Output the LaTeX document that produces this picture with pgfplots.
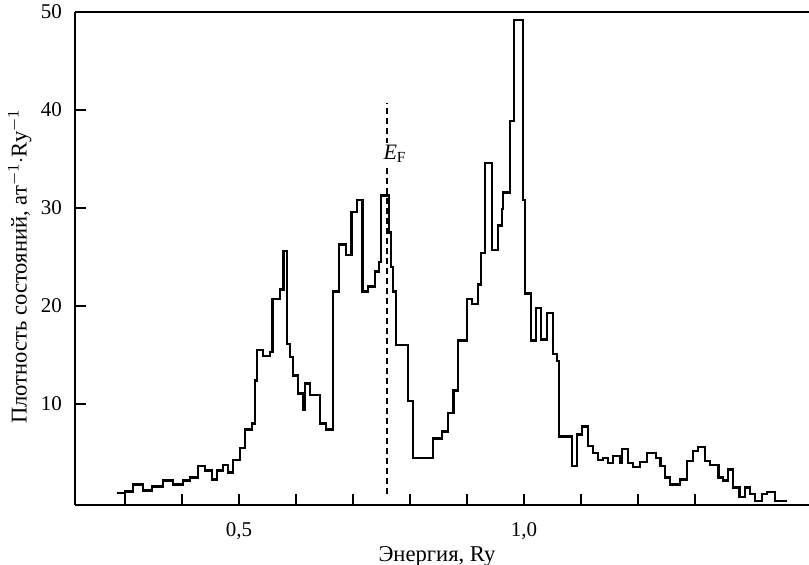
\documentclass[border=0pt]{standalone}
\usepackage{fontspec}
\setmainfont{Liberation Serif}
\usepackage{pgfplots}
\usepackage{pgfplotstable}
\pgfplotsset{compat=1.18}

% Density of states histogram: left edge of each energy bin (Ry) and its value
\pgfplotstableread{
E       dos
0.2857  0.9
0.2999  1.1
0.3142  1.8
0.3315  1.2
0.3478  1.6
0.3671  2.2
0.3844  1.8
0.4017  2.2
0.4139  2.5
0.4281  3.7
0.4404  3.2
0.4526  2.3
0.4617  3.2
0.4719  3.8
0.4811  3.0
0.4892  4.3
0.5014  5.5
0.5106  7.4
0.5228  8.0
0.5279  12.4
0.5319  15.5
0.5421  14.9
0.5543  15.3
0.5584  20.7
0.5716  21.7
0.5777  25.6
0.5838  16.1
0.5899  14.8
0.5950  12.9
0.6032  11.1
0.6123  9.4
0.6154  12.1
0.6245  10.9
0.6418  8.0
0.6530  7.4
0.6652  21.5
0.6754  26.3
0.6876  25.2
0.6978  29.6
0.7070  30.8
0.7171  21.5
0.7263  22.0
0.7385  23.5
0.7456  24.5
0.7487  31.3
0.7629  27.5
0.7670  24.0
0.7700  21.5
0.7751  16.0
0.7965  10.3
0.8057  4.5
0.8402  6.5
0.8565  7.2
0.8667  9.1
0.8759  11.4
0.8840  16.5
0.9003  20.7
0.9084  20.2
0.9196  22.2
0.9247  25.4
0.9318  34.6
0.9440  25.7
0.9542  28.2
0.9613  29.9
0.9634  31.6
0.9756  38.9
0.9827  49.2
0.9980  30.8
1.0020  21.3
1.0122  16.5
1.0214  19.8
1.0295  16.6
1.0407  19.3
1.0509  15.1
1.0580  14.4
1.0611  6.7
1.0845  3.7
1.0926  6.9
1.1018  7.7
1.1119  5.7
1.1211  5.0
1.1302  4.3
1.1384  4.5
1.1475  4.0
1.1557  4.7
1.1689  4.0
1.1720  5.4
1.1821  4.0
1.1913  3.6
1.2035  4.1
1.2157  5.0
1.2320  4.5
1.2391  3.7
1.2473  2.5
1.2564  1.8
1.2737  2.3
1.2859  4.2
1.2961  5.2
1.3053  5.6
1.3175  4.2
1.3266  3.8
1.3409  2.5
1.3490  2.2
1.3582  3.3
1.3663  1.5
1.3785  0.5
1.3877  1.5
1.3968  0.8
1.4050  0.1
1.4172  0.8
1.4264  1.0
1.4406  0.1
1.4609  0.1
}\dostable

\begin{document}
\begin{tikzpicture}
\useasboundingbox (-37.5pt,-30pt) rectangle (367pt,252.5pt);
\begin{axis}[
  at={(0,0)}, anchor=south west,
  scale only axis, width=367pt, height=246.5pt,
  xmin=0.2123, xmax=1.5, ymin=-0.3, ymax=50,
  axis x line*=box, axis y line*=left,
  axis line style={line width=0.7pt, black},
  tick align=inside,
  xtick pos=left, ytick pos=left,
  xtick={0.3,0.4,0.5,0.6,0.7,0.8,0.9,1.0,1.1,1.2,1.3},
  xticklabels={,,{0,5},,,,,{1,0},,,},
  ytick={10,20,30,40,50},
  yticklabels={10,20,30,40,50},
  major tick length=5.5pt,
  tick style={line width=0.6pt, black},
  ticklabel style={font=\fontsize{10.5}{12}\selectfont},
  xticklabel style={yshift=-5pt},
  yticklabel style={xshift=-3pt},
  xlabel={Энергия, Ry},
  ylabel={Плотность состояний, ат$^{-1}$$\cdot$Ry$^{-1}$},
  label style={font=\fontsize{11.3}{13}\selectfont},
  xlabel style={at={(axis description cs:0.4932,0)}, anchor=north, yshift=-17.3pt},
  ylabel style={at={(axis description cs:-0.075,0.484)}, anchor=center},
  clip=false,
]
\addplot[const plot mark left, line width=1.25pt, black] table[x=E, y=dos] {\dostable};
% Fermi level
\addplot[line width=1pt, dash pattern=on 3pt off 2pt, black] coordinates {(0.7597,0.8) (0.7597,40.7)};
\node[fill=white, inner sep=1pt, font=\fontsize{11}{13}\selectfont] at (axis cs:0.7737,35.5) {\textit{E}\textsubscript{F}};
\end{axis}
\end{tikzpicture}
\end{document}
